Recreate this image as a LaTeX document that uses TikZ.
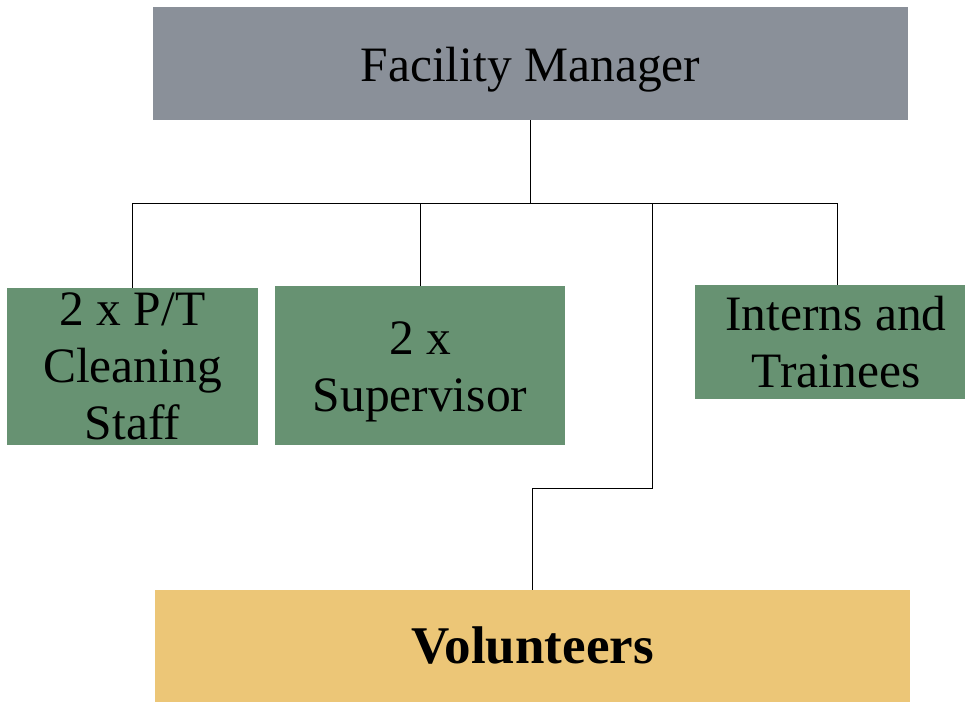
\documentclass[tikz,border=0pt]{standalone}
\usepackage{fontspec}
\setmainfont{Liberation Serif}
\definecolor{mgray}{HTML}{8A9099}
\definecolor{mgreen}{HTML}{679272}
\definecolor{mgold}{HTML}{ECC677}
\begin{document}
\begin{tikzpicture}[x=1pt,y=-1pt,
  box/.style={rectangle,inner sep=0pt,align=center,text=black},
  bigtxt/.style={font=\fontsize{49.5}{57}\selectfont},
  link/.style={draw=black,line width=1pt}]
\useasboundingbox (0,0) rectangle (965,703);
\node[box,fill=mgray,minimum width=755pt,minimum height=113pt,bigtxt,text height=45pt,text depth=8pt] (fm) at (530.5,63.5) {Facility Manager};
\node[box,fill=mgreen,minimum width=251pt,minimum height=157pt,bigtxt] (clean) at (132.5,366.5) {2 x P/T\\Cleaning\\Staff};
\node[box,fill=mgreen,minimum width=290pt,minimum height=159pt] (sup) at (420,365.5) {};
\node[box,bigtxt] (suptxt) at ([yshift=-6pt]sup.center) {2 x\\Supervisor};
\node[box,fill=mgreen,minimum width=270pt,minimum height=114pt,bigtxt] (int) at (830,342) {\hspace*{12pt}Interns and\\\hspace*{12pt}Trainees};
\node[box,fill=mgold,minimum width=755pt,minimum height=112pt,font=\fontsize{53}{57}\selectfont\bfseries] (vol) at (532.5,646) {Volunteers};
\coordinate (j) at (530.5,204);
\coordinate (jv) at (652,204);
\coordinate (bend) at (652,488);
\draw[link] (fm.south) -- (j);
\draw[link] (j) -| (clean.north);
\draw[link] (j) -| (sup.north);
\draw[link] (j) -| ([xshift=7pt]int.north);
\draw[link] (jv) -- (bend) -| (vol.north);
\end{tikzpicture}
\end{document}
